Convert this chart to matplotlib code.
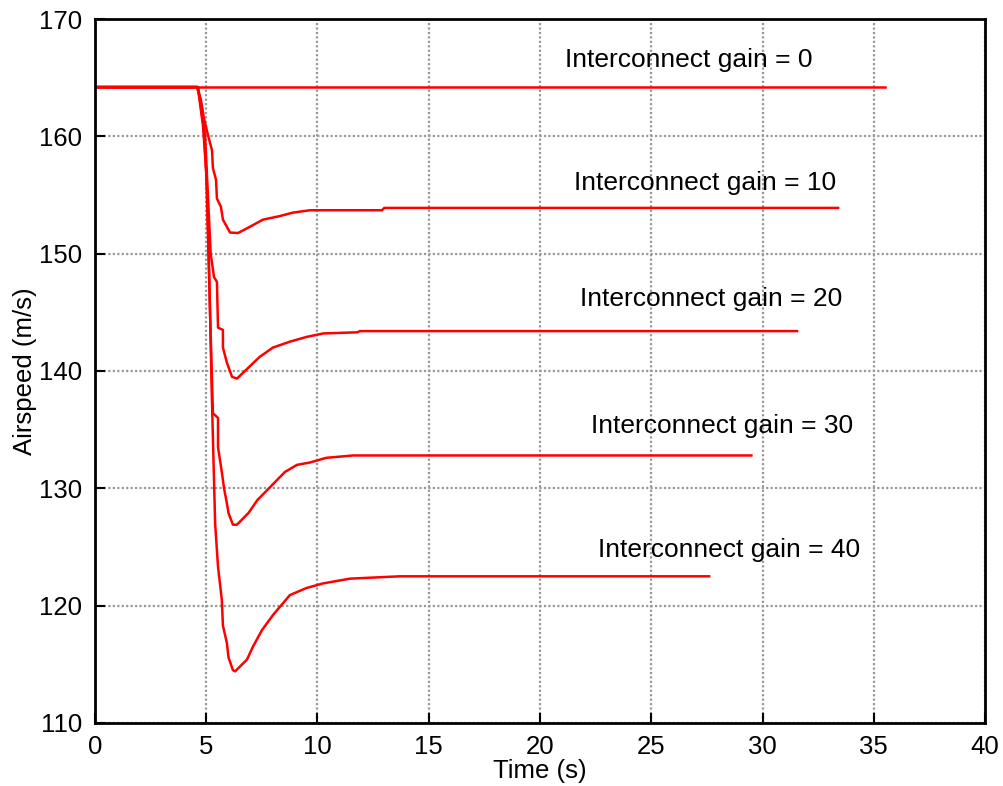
import matplotlib
matplotlib.use("Agg")
import matplotlib.pyplot as plt

plt.rcParams['font.family'] = ['Liberation Sans', 'DejaVu Sans']

# Airspeed responses for each interconnect gain (time in s, airspeed in m/s)
t_gain0 = [0.0, 35.5]
v_gain0 = [164.2, 164.2]

t_gain10 = [0.0, 4.58, 4.75, 4.9, 5.08, 5.26, 5.3, 5.44, 5.48, 5.66, 5.75, 6.07, 6.43,
            6.97, 7.55, 8.3, 8.9, 9.66, 12.9, 13.0, 33.4]
v_gain10 = [164.2, 164.2, 163.2, 161.5, 160.1, 158.8, 157.3, 156.3, 154.7, 154.0, 152.9,
            151.8, 151.76, 152.3, 152.9, 153.2, 153.5, 153.7, 153.7, 153.9, 153.9]

t_gain20 = [0.0, 4.6, 4.8, 4.95, 5.05, 5.2, 5.35, 5.48, 5.53, 5.75, 5.75, 5.93, 6.16,
            6.38, 7.4, 8.0, 8.76, 9.5, 10.26, 11.8, 11.9, 31.55]
v_gain20 = [164.2, 164.2, 162.5, 160.0, 156.0, 150.0, 148.0, 147.6, 143.7, 143.5, 142.0,
            140.7, 139.5, 139.35, 141.2, 142.0, 142.5, 142.9, 143.2, 143.3, 143.4, 143.4]

t_gain30 = [0.0, 4.62, 4.85, 5.0, 5.1, 5.2, 5.3, 5.53, 5.53, 5.7, 5.8, 5.93, 6.0, 6.2,
            6.38, 6.9, 7.3, 7.87, 8.54, 9.08, 9.66, 10.4, 11.6, 29.5]
v_gain30 = [164.2, 164.2, 161.0, 157.0, 150.0, 143.0, 136.4, 136.0, 133.5, 131.4, 130.0,
            128.7, 127.9, 126.9, 126.9, 127.9, 129.0, 130.1, 131.4, 132.0, 132.2, 132.6,
            132.8, 132.8]

t_gain40 = [0.0, 4.64, 4.9, 5.05, 5.15, 5.25, 5.4, 5.53, 5.7, 5.75, 5.93, 6.0, 6.2, 6.3,
            6.83, 7.1, 7.5, 8.0, 8.76, 9.5, 10.26, 11.46, 13.7, 27.6]
v_gain40 = [164.2, 164.2, 160.5, 155.0, 147.0, 138.0, 127.0, 123.3, 120.5, 118.3, 116.8,
            115.6, 114.5, 114.4, 115.4, 116.5, 117.9, 119.2, 120.9, 121.5, 121.9, 122.3,
            122.5, 122.5]

series = [(t_gain0, v_gain0), (t_gain10, v_gain10), (t_gain20, v_gain20),
          (t_gain30, v_gain30), (t_gain40, v_gain40)]

label_texts = ["Interconnect gain = 0", "Interconnect gain = 10", "Interconnect gain = 20",
               "Interconnect gain = 30", "Interconnect gain = 40"]
label_x = [26.7, 27.4, 27.7, 28.2, 28.5]
label_y = [166.5, 156.0, 146.1, 135.3, 124.7]

x_ticks = [0, 5, 10, 15, 20, 25, 30, 35, 40]
y_ticks = [110, 120, 130, 140, 150, 160, 170]

fig = plt.figure(figsize=(10.04, 7.86), dpi=100)
ax = fig.add_axes([0.0946, 0.0802, 0.8865, 0.8956])

for t, v in series:
    ax.plot(t, v, color='red', linewidth=1.8)

for txt, x, y in zip(label_texts, label_x, label_y):
    ax.text(x, y, txt, ha='center', va='center', fontsize=19)

ax.set_xlim(0, 40)
ax.set_ylim(110, 170)
ax.set_xticks(x_ticks)
ax.set_yticks(y_ticks)
ax.tick_params(direction='in', length=7, width=1.5, labelsize=18.5, pad=9,
               top=False, right=False)
ax.grid(True, color='#999999', linestyle=(0, (1.0, 1.0)), linewidth=1.6)
for s in ax.spines.values():
    s.set_linewidth(2)
    s.set_color('black')

ax.set_xlabel("Time (s)", fontsize=18.5, labelpad=0)
ax.set_ylabel("Airspeed (m/s)", fontsize=18.5, labelpad=2)

fig.savefig("out.png", dpi=100)
